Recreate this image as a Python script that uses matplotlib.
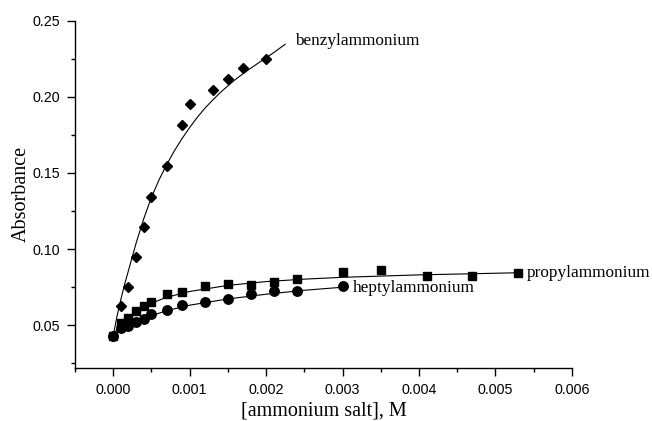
import matplotlib
matplotlib.use("Agg")
import matplotlib.pyplot as plt
from matplotlib.ticker import MultipleLocator

# measured points
benzyl_x = [0.0, 0.0001, 0.0002, 0.0003, 0.0004, 0.0005, 0.0007, 0.0009,
            0.0010, 0.0013, 0.0015, 0.0017, 0.0020]
benzyl_y = [0.043, 0.0628, 0.0751, 0.0949, 0.1146, 0.1345, 0.1543, 0.1817,
            0.1950, 0.2045, 0.2115, 0.2186, 0.2251]

propyl_x = [0.0, 0.0001, 0.0002, 0.0003, 0.0004, 0.0005, 0.0007, 0.0009,
            0.0012, 0.0015, 0.0018, 0.0021, 0.0024, 0.0030, 0.0035, 0.0041,
            0.0047, 0.0053]
propyl_y = [0.043, 0.0514, 0.0547, 0.0591, 0.0625, 0.0652, 0.0705, 0.0720,
            0.0760, 0.0771, 0.0763, 0.0786, 0.0803, 0.0851, 0.0860, 0.0824,
            0.0824, 0.0846]

heptyl_x = [0.0, 0.0001, 0.0002, 0.0003, 0.0004, 0.0005, 0.0007, 0.0009,
            0.0012, 0.0015, 0.0018, 0.0021, 0.0024, 0.0030]
heptyl_y = [0.043, 0.0482, 0.0497, 0.0519, 0.0541, 0.0571, 0.0600, 0.0635,
            0.0652, 0.0672, 0.0705, 0.0722, 0.0722, 0.0755]

# fitted curves
benzyl_fit_x = [0.0, 0.00005, 0.0001, 0.00015, 0.0002, 0.0003, 0.0004, 0.0005,
                0.0006, 0.0007, 0.0008, 0.0009, 0.0010, 0.0011, 0.0012,
                0.0013, 0.0014, 0.0015, 0.0016, 0.0017, 0.0018, 0.0019,
                0.0020, 0.0021, 0.00225]
benzyl_fit_y = [0.043, 0.056, 0.067, 0.077, 0.086, 0.104, 0.120, 0.1340,
                0.1455, 0.1555, 0.1645, 0.1725, 0.1798, 0.1865, 0.1925,
                0.1978, 0.2027, 0.2072, 0.2114, 0.2152, 0.2188, 0.2222,
                0.2256, 0.2290, 0.2345]

propyl_fit_x = [0.0, 0.00005, 0.0001, 0.0002, 0.0003, 0.0005, 0.0007, 0.0010,
                0.0015, 0.0020, 0.0025, 0.0030, 0.0040, 0.0053]
propyl_fit_y = [0.043, 0.0475, 0.0505, 0.0553, 0.0590, 0.0645, 0.0684, 0.0722,
                0.0762, 0.0787, 0.0803, 0.0815, 0.0831, 0.0845]

heptyl_fit_x = [0.0, 0.00005, 0.0001, 0.0002, 0.0003, 0.0005, 0.0007, 0.0010,
                0.0015, 0.0020, 0.0025, 0.0030]
heptyl_fit_y = [0.043, 0.0457, 0.0478, 0.0502, 0.0524, 0.0563, 0.0596, 0.0632,
                0.0673, 0.0704, 0.0730, 0.0750]

SERIF = ["Liberation Serif", "DejaVu Serif"]
SANS = ["Liberation Sans", "DejaVu Sans"]

fig = plt.figure(figsize=(6.52, 4.21), dpi=100)
ax = fig.add_axes([0.115, 0.126, 0.762, 0.825])

ax.plot(benzyl_fit_x, benzyl_fit_y, color="black", lw=0.8)
ax.plot(propyl_fit_x, propyl_fit_y, color="black", lw=0.8)
ax.plot(heptyl_fit_x, heptyl_fit_y, color="black", lw=0.8)

ax.plot(benzyl_x, benzyl_y, "D", color="black", ms=5.2, zorder=3)
ax.plot(propyl_x, propyl_y, "s", color="black", ms=5.6, zorder=3)
ax.plot(heptyl_x, heptyl_y, "o", color="black", ms=6.8, zorder=3)

ax.text(0.00238, 0.2365, "benzylammonium", family=SERIF, fontsize=12.4,
        va="center", ha="left")
ax.text(0.00541, 0.0846, "propylammonium", family=SERIF, fontsize=12.4,
        va="center", ha="left")
ax.text(0.00314, 0.0742, "heptylammonium", family=SERIF, fontsize=12.4,
        va="center", ha="left")

ax.set_xlim(-0.0005, 0.006)
ax.set_ylim(0.022, 0.25)
ax.xaxis.set_major_locator(MultipleLocator(0.001))
ax.xaxis.set_minor_locator(MultipleLocator(0.0005))
ax.yaxis.set_major_locator(MultipleLocator(0.05))
ax.yaxis.set_minor_locator(MultipleLocator(0.025))
ax.xaxis.set_major_formatter(plt.FuncFormatter(lambda v, p: f"{v:.3f}"))
ax.yaxis.set_major_formatter(plt.FuncFormatter(lambda v, p: f"{v:.2f}"))

for side in ("top", "right"):
    ax.spines[side].set_visible(False)
for side in ("left", "bottom"):
    ax.spines[side].set_linewidth(1.0)
ax.tick_params(which="major", direction="out", length=6, width=1.0,
               labelsize=10.3, pad=5)
ax.tick_params(which="minor", direction="out", length=3, width=1.0)
for lbl in ax.get_xticklabels() + ax.get_yticklabels():
    lbl.set_family(SANS)

ax.set_xlabel("[ammonium salt], M", family=SERIF, fontsize=14.5, labelpad=3)
ax.set_ylabel("Absorbance", family=SERIF, fontsize=14.5, labelpad=1)

fig.savefig("out.png", dpi=100)
